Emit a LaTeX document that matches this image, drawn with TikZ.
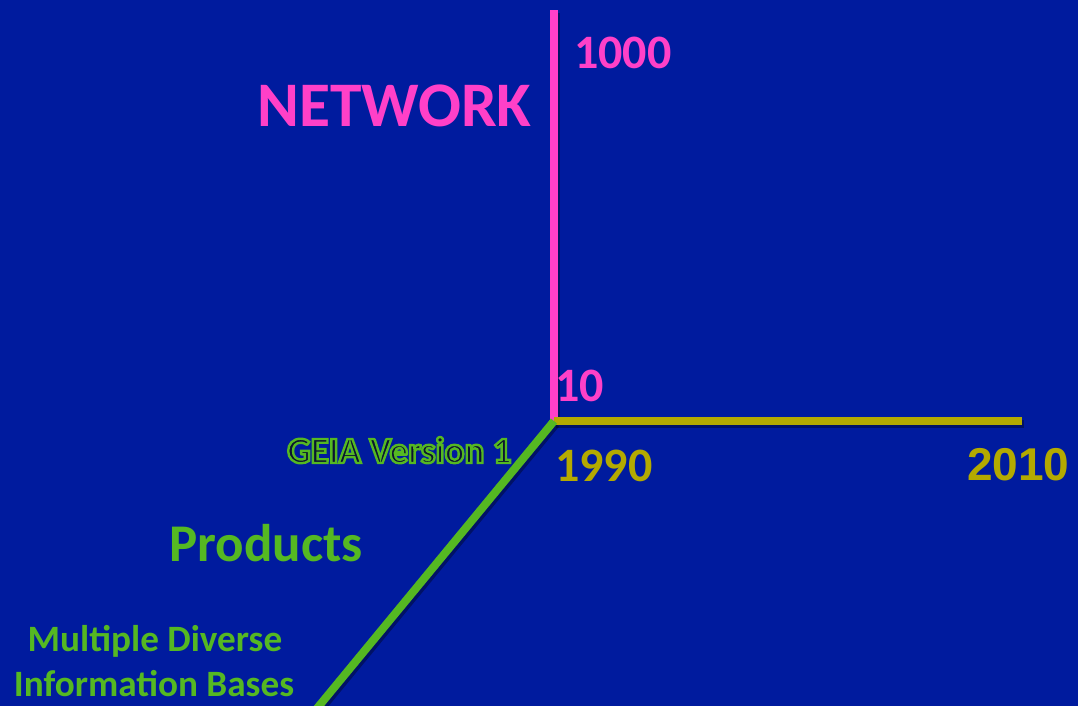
\documentclass[tikz,border=0pt]{standalone}
\usepackage{fontspec}
\setmainfont{Carlito}
\newfontfamily\numfont{Carlito}
\newfontfamily\arialfont{Liberation Sans}
\definecolor{bg}{HTML}{001B9E}
\definecolor{pinkc}{HTML}{FF40C8}
\definecolor{olivec}{HTML}{B4AA00}
\definecolor{greenc}{HTML}{55B822}
\definecolor{darkfill}{HTML}{0A1430}
\newcommand{\outlinedtext}[1]{\special{pdf:literal 0.333 0.722 0.133 RG 2 Tr 2.4 w}#1\special{pdf:literal 0 Tr}}
\begin{document}
\begin{tikzpicture}[x=1pt,y=-1pt,
  lbl/.style={inner sep=0pt, anchor=base west, font=\bfseries},
  axis/.style={line width=8pt},
  shadowline/.style={line width=8pt, draw=black, opacity=0.35}]
\useasboundingbox[fill=bg] (0,0) rectangle (1078,706);
\coordinate (o) at (554,421);
\coordinate (ztop) at (554,10);
\coordinate (xend) at (1022,421);
\coordinate (yend) at (314,712);
% shadows
\draw[shadowline] ([shift={(2,3)}]o) -- ([shift={(2,3)}]xend);
\draw[shadowline] ([shift={(2,3)}]o) -- ([shift={(2,3)}]ztop);
\draw[shadowline] ([shift={(2,3)}]o) -- ([shift={(2,3)}]yend);
% axes
\draw[axis, draw=pinkc] (o) -- (ztop);
\draw[axis, draw=olivec] (o) -- (xend);
\draw[axis, draw=greenc] (o) -- (yend);
% labels
\node[lbl, text=pinkc, font=\bfseries\fontsize{63.5}{68}\selectfont] (net) at (257,127) {NETWORK};
\node[lbl, text=pinkc, font=\bfseries\numfont\fontsize{48}{52}\selectfont] (n1000) at (574,69) {1000};
\node[lbl, text=pinkc, font=\bfseries\numfont\fontsize{48}{52}\selectfont] (n10) at (555,401) {10};
\node[lbl, text=olivec, font=\bfseries\numfont\fontsize{48}{52}\selectfont] (n1990) at (555,481) {1990};
\node[lbl, text=olivec, font=\bfseries\arialfont\fontsize{46}{50}\selectfont] (n2010) at (967,480) {2010};
\node[lbl, text=darkfill, font=\bfseries\fontsize{37}{41}\selectfont] (geia) at (287,463) {\outlinedtext{GEIA Version 1}};
\node[lbl, text=greenc, font=\bfseries\fontsize{53}{57}\selectfont] (prod) at (169,561) {Products};
\node[inner sep=0pt, anchor=base, text=greenc, font=\bfseries\fontsize{37.2}{40}\selectfont] (mdib1) at (155,651) {Multiple Diverse};
\node[inner sep=0pt, anchor=base, text=greenc, font=\bfseries\fontsize{37.2}{40}\selectfont] (mdib2) at (154,696) {Information Bases};
\end{tikzpicture}
\end{document}
